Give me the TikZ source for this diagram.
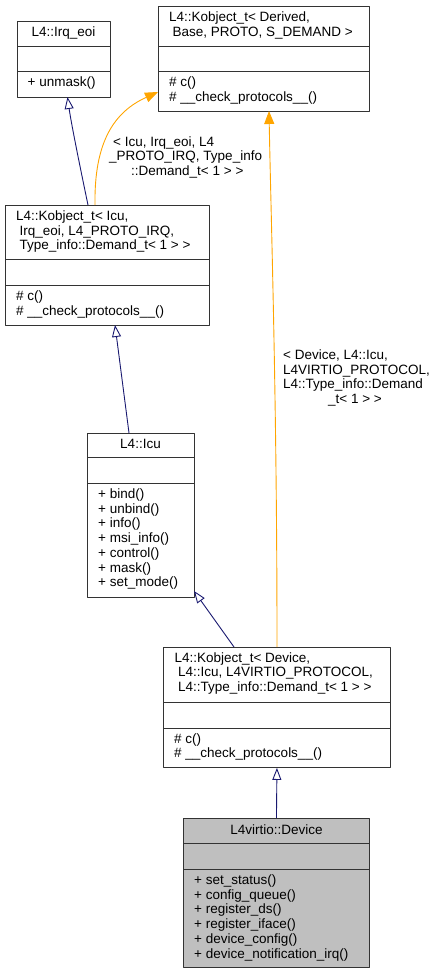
\documentclass[tikz,border=0pt]{standalone}
\usepackage{fontspec}
\setmainfont{Liberation Sans}
\usetikzlibrary{arrows.meta}
\definecolor{navyedge}{HTML}{191970}
\definecolor{tmplorange}{HTML}{FFA500}
\definecolor{boxgray}{HTML}{BFBFBF}
\begin{document}
\begin{tikzpicture}[x=1pt, y=-1pt, line join=round, font=\fontsize{13.5}{14.7}\selectfont]
	\tikzset{
		classbox/.style={draw=black!80, line width=0.9pt, inner sep=0pt, anchor=north west},
		sepline/.style={draw=black!80, line width=0.9pt},
		txt/.style={inner sep=0pt, anchor=base west},
		ttl/.style={inner sep=0pt, anchor=base},
		inherit/.style={draw=navyedge, line width=0.9pt, -{Triangle[open, length=12pt, width=9pt]}},
		templ/.style={draw=tmplorange, line width=0.9pt, -{Triangle[length=13pt, width=10pt]}}
	}
	\useasboundingbox (0,0) rectangle (441,973);
	
	% Class boxes
	\node[classbox, minimum width=93pt, minimum height=76pt] (irq) at (17,21) {};
	\node[classbox, minimum width=211pt, minimum height=105pt] (kder) at (158,6) {};
	\node[classbox, minimum width=204pt, minimum height=120pt] (kicu) at (5,205) {};
	\node[classbox, minimum width=107pt, minimum height=164pt] (icu) at (87,433) {};
	\node[classbox, minimum width=227pt, minimum height=120pt] (kdev) at (163,647) {};
	\node[classbox, fill=boxgray, minimum width=186pt, minimum height=149pt] (dev) at (183,818) {};
	
	% Compartment lines
	\draw[sepline] (17,46) -- (110,46) (17,71) -- (110,71);
	\draw[sepline] (158,46) -- (369,46) (158,71) -- (369,71);
	\draw[sepline] (5,259) -- (209,259) (5,285) -- (209,285);
	\draw[sepline] (87,457) -- (194,457) (87,483) -- (194,483);
	\draw[sepline] (163,702) -- (390,702) (163,728) -- (390,728);
	\draw[sepline] (183,843) -- (369,843) (183,869) -- (369,869);
	
	% L4::Irq_eoi
	\node[ttl] (irq-t) at (63.5,36.5) {L4::Irq\_eoi};
	\node[txt] (irq-m) at (27.5,86.5) {+ unmask()};
	
	% L4::Kobject_t< Derived, ... >
	\node[txt] (kder-t1) at (169,21.5) {L4::Kobject\_t< Derived,};
	\node[txt] (kder-t2) at (172.5,36.5) {Base, PROTO, S\_DEMAND >};
	\node[txt] (kder-m1) at (169,87) {\# c()};
	\node[txt] (kder-m2) at (169,101.5) {\# \_\_check\_protocols\_\_()};
	
	% L4::Kobject_t< Icu, ... >
	\node[txt] (kicu-t1) at (16,221) {L4::Kobject\_t< Icu,};
	\node[txt] (kicu-t2) at (19.5,235.5) {Irq\_eoi, L4\_PROTO\_IRQ,};
	\node[txt] (kicu-t3) at (19.5,250) {Type\_info::Demand\_t< 1 > >};
	\node[txt] (kicu-m1) at (16,300.5) {\# c()};
	\node[txt] (kicu-m2) at (16,315) {\# \_\_check\_protocols\_\_()};
	
	% L4::Icu
	\node[ttl] (icu-t) at (140.5,448.5) {L4::Icu};
	\foreach \m [count=\i from 0] in {bind(), unbind(), info(), msi\_info(), control(), mask(), set\_mode()}
		\node[txt] (icu-m\i) at (98,498.5+14.7*\i) {+ \m};
	
	% L4::Kobject_t< Device, ... >
	\node[txt] (kdev-t1) at (174.5,662) {L4::Kobject\_t< Device,};
	\node[txt] (kdev-t2) at (178,676.5) {L4::Icu, L4VIRTIO\_PROTOCOL,};
	\node[txt] (kdev-t3) at (178,691) {L4::Type\_info::Demand\_t< 1 > >};
	\node[txt] (kdev-m1) at (174,743) {\# c()};
	\node[txt] (kdev-m2) at (174,757.5) {\# \_\_check\_protocols\_\_()};
	
	% L4virtio::Device
	\node[ttl] (dev-t) at (276.5,834) {L4virtio::Device};
	\foreach \m [count=\i from 0] in {set\_status(), config\_queue(), register\_ds(), register\_iface(), device\_config(), device\_notification\_irq()}
		\node[txt] (dev-m\i) at (194,884.5+14.7*\i) {+ \m};
	
	% Connector ends
	\coordinate (irq-in) at (67.5,97);
	\coordinate (kder-in1) at (158,92);
	\coordinate (kder-in2) at (269,111);
	\coordinate (kicu-in) at (115,325);
	\coordinate (kicu-out1) at (88,205);
	\coordinate (kicu-out2) at (95,205);
	\coordinate (icu-in) at (194,591);
	\coordinate (icu-out) at (129,433);
	\coordinate (kdev-out1) at (234,647);
	\coordinate (kdev-out2) at (277,647);
	
	% Inheritance
	\draw[inherit] (kicu-out1) .. controls (79,162) and (71,122) .. (irq-in);
	\draw[inherit] (icu-out) -- (kicu-in);
	\draw[inherit] (kdev-out1) -- (icu-in);
	\draw[inherit] (dev.north) -- (kdev.south);
	
	% Template instances
	\draw[templ] (kicu-out2) .. controls (94,142) and (114,112) .. (kder-in1);
	\draw[templ] (kdev-out2) .. controls (277,400) and (271,220) .. (kder-in2);
	
	% Edge labels
	\node[txt] (lbl1-a) at (113,146.5) {< Icu, Irq\_eoi, L4};
	\node[txt] (lbl1-b) at (109,161) {\_PROTO\_IRQ, Type\_info};
	\node[txt] (lbl1-c) at (131,175.5) {::Demand\_t< 1 > >};
	\node[txt] (lbl2-a) at (283,359.5) {< Device, L4::Icu,};
	\node[txt] (lbl2-b) at (283,374) {L4VIRTIO\_PROTOCOL,};
	\node[txt] (lbl2-c) at (283,388.5) {L4::Type\_info::Demand};
	\node[txt] (lbl2-d) at (328,403) {\_t< 1 > >};
\end{tikzpicture}
\end{document}
